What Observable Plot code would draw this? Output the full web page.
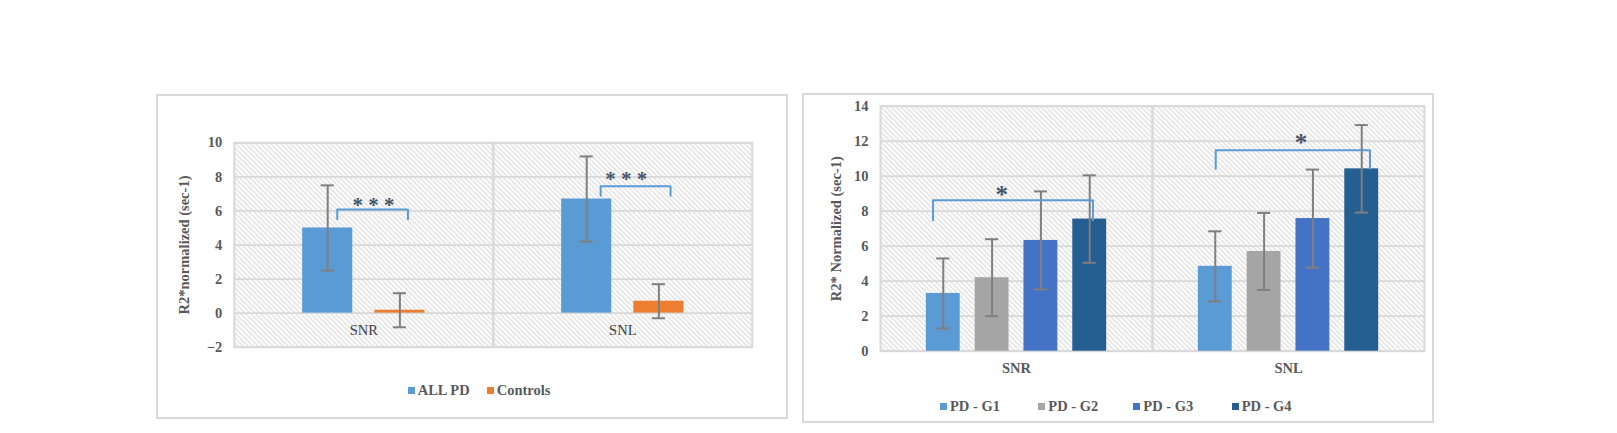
<!DOCTYPE html>
<html>
<head>
<meta charset="utf-8">
<script src="https://cdn.jsdelivr.net/npm/d3@7"></script>
<script src="https://cdn.jsdelivr.net/npm/@observablehq/plot@0.6"></script>
<style>
  body { margin: 0; background: #fff; }
  #root { position: relative; width: 1617px; height: 433px; overflow: hidden; background: #fff;
          font-family: "Liberation Serif", "DejaVu Serif", serif; }
  #root svg text { font-family: "Liberation Serif", "DejaVu Serif", serif; }
  .box { position: absolute; border: 2px solid #d9d9d9; box-sizing: border-box; pointer-events: none; }
  .chart { position: absolute; }
  .leg { position: absolute; display: flex; align-items: center; height: 18px; font-weight: bold;
         font-size: 14.5px; color: #595959; white-space: nowrap; font-family: "Liberation Serif", "DejaVu Serif", serif; }
  .leg i { display: inline-block; width: 7px; height: 7px; margin-right: 3px; }
</style>
</head>
<body>
<div id="root"></div>
<script>
// ---------------- data ----------------
const regions = ["SNR", "SNL"];

// Left chart: ALL PD vs Controls
const leftSeries = ["ALL PD", "Controls"];
const leftColors = ["#5b9bd5", "#ed7d31"];
const allPdMean = [5.0, 6.7];
const allPdErr = [2.5, 2.5];
const controlsMean = [0.17, 0.7];
const controlsErr = [1.0, 1.0];
const leftTicks = [-2, 0, 2, 4, 6, 8, 10];
const leftYLabel = "R2*normalized (sec-1)";

// Right chart: PD groups
const groups = ["PD - G1", "PD - G2", "PD - G3", "PD - G4"];
const groupColors = ["#5b9bd5", "#a5a5a5", "#4472c4", "#255e91"];
const g1Mean = [3.3, 4.85];
const g1Err = [2.0, 2.0];
const g2Mean = [4.2, 5.7];
const g2Err = [2.2, 2.2];
const g3Mean = [6.33, 7.58];
const g3Err = [2.8, 2.8];
const g4Mean = [7.55, 10.42];
const g4Err = [2.5, 2.5];
const rightTicks = [0, 2, 4, 6, 8, 10, 12, 14];
const rightYLabel = "R2* Normalized (sec-1)";

// significance brackets
const leftSig = [
  {region: "SNR", from: "ALL PD", to: "Controls", top: 6.09, low: 5.44, label: "* * *", anchor: "Controls"},
  {region: "SNL", from: "ALL PD", to: "Controls", top: 7.45, low: 6.81, label: "* * *", anchor: "Controls"}
];
const rightSig = [
  {region: "SNR", from: "PD - G1", to: "PD - G4", top: 8.63, low: 7.41, label: "*", anchor: "PD - G2"},
  {region: "SNL", from: "PD - G1", to: "PD - G4", top: 11.49, low: 10.35, label: "*", anchor: "PD - G3"}
];

// ---------------- tables ----------------
const leftRows = regions.flatMap((region, i) => [
  {region, series: leftSeries[0], value: allPdMean[i], err: allPdErr[i]},
  {region, series: leftSeries[1], value: controlsMean[i], err: controlsErr[i]}
]);
const groupMeans = [g1Mean, g2Mean, g3Mean, g4Mean];
const groupErrs = [g1Err, g2Err, g3Err, g4Err];
const rightRows = regions.flatMap((region, i) =>
  groups.map((series, j) => ({region, series, value: groupMeans[j][i], err: groupErrs[j][i]})));

// ---------------- drawing ----------------
const root = document.getElementById("root");
const BLUE = "#5b9bd5", GRID = "#d9d9d9", ERR = "#7f7f7f", STAR = "#44546a", TXT = "#595959";
const SERIF = "'Liberation Serif', 'DejaVu Serif', serif";

function panel(cfg) {
  const {id, rows, series, colors, yDomain, ticks, yLabel, sig, sigLayout, left, top, width, height, m,
         pi, po, capInset, labelOffset, catWeight, catColor, starSize} = cfg;
  const facetW = (width - m.left - m.right) / regions.length;
  const step = facetW / (series.length - pi + 2 * po);
  const bw = step * (1 - pi);

  const marks = [
    Plot.frame({fill: `url(#${id})`}),
    Plot.gridY(ticks, {stroke: GRID, strokeOpacity: 1, strokeWidth: 1.75}),
    Plot.frame({stroke: GRID, strokeWidth: 2}),
    Plot.barY(rows, {fx: "region", x: "series", y: "value", fill: "series"}),
    Plot.ruleX(rows, {fx: "region", x: "series", y1: d => d.value - d.err, y2: d => d.value + d.err,
                      stroke: ERR, strokeWidth: 2}),
    Plot.tickY(rows, {fx: "region", x: "series", y: d => d.value + d.err, stroke: ERR, strokeWidth: 2,
                      insetLeft: capInset, insetRight: capInset}),
    Plot.tickY(rows, {fx: "region", x: "series", y: d => d.value - d.err, stroke: ERR, strokeWidth: 2,
                      insetLeft: capInset, insetRight: capInset})
  ];
  sig.forEach((b, k) => {
    const L = sigLayout[k];
    marks.push(
      Plot.ruleY([b], {fx: "region", x1: "from", x2: "to", y: "top", insetLeft: L.l, insetRight: L.r,
                       stroke: BLUE, strokeWidth: 2}),
      Plot.ruleX([b], {fx: "region", x: "from", y1: "low", y2: "top", dx: L.l - bw / 2,
                       stroke: BLUE, strokeWidth: 2}),
      Plot.ruleX([b], {fx: "region", x: "to", y1: "low", y2: "top", dx: bw / 2 - L.r,
                       stroke: BLUE, strokeWidth: 2}),
      Plot.text([b], {fx: "region", x: "anchor", y: "top", text: "label", dx: L.dx, dy: L.dy,
                      lineAnchor: "bottom", fontSize: starSize, fontWeight: "bold", fill: STAR,
                      fontFamily: SERIF})
    );
  });
  marks.push(
    Plot.text(regions, {fx: d => d, y: () => 0, text: d => d, dy: 17.3, lineAnchor: "middle",
                        fontSize: 14.5, fontWeight: catWeight, fill: catColor, fontFamily: SERIF}),
    Plot.axisY(ticks, {tickSize: 0, tickPadding: 12, fontSize: 14.5, fontWeight: "bold", fill: TXT,
                       fontFamily: SERIF,
                       label: yLabel, labelAnchor: "center", labelOffset, labelArrow: "none"})
  );

  const svg = Plot.plot({
    width, height,
    marginTop: m.top, marginRight: m.right, marginBottom: m.bottom, marginLeft: m.left,
    style: {background: "transparent", fontFamily: SERIF, fontSize: "14px"},
    fx: {domain: regions, padding: 0, paddingInner: 0, paddingOuter: 0, round: false, axis: null, label: null},
    x: {domain: series, paddingInner: pi, paddingOuter: po, round: false, axis: null, label: null},
    y: {domain: yDomain, label: null},
    color: {domain: series, range: colors},
    marks
  });
  // hatch pattern
  const defs = d3.select(svg).insert("defs", ":first-child");
  const p = defs.append("pattern").attr("id", id).attr("patternUnits", "userSpaceOnUse")
    .attr("width", 5).attr("height", 5);
  p.append("rect").attr("width", 5).attr("height", 5).attr("fill", "#ffffff");
  p.append("path").attr("d", "M-5,0L0,5M0,0L5,5M5,0L10,5")
    .attr("stroke", "#d2d2d2").attr("stroke-width", 1.1).attr("fill", "none");
  // axis tick labels and title: bold serif grey
  d3.select(svg).selectAll('g[aria-label="y-axis tick label"], g[aria-label="y-axis label"]')
    .attr("font-weight", "bold").attr("fill", TXT).attr("font-family", SERIF);
  d3.select(svg).selectAll('g[aria-label="y-axis tick label"] text, g[aria-label="y-axis label"] text')
    .style("font-weight", "bold").style("font-size", "14.5px");

  svg.classList.add("chart");
  svg.style.left = left + "px";
  svg.style.top = top + "px";
  root.appendChild(svg);
}

function box(left, top, w, h) {
  const d = document.createElement("div");
  d.className = "box";
  Object.assign(d.style, {left: left + "px", top: top + "px", width: w + "px", height: h + "px"});
  root.appendChild(d);
}

function legend(labels, colors, xs, yCenter) {
  labels.forEach((label, i) => {
    const d = document.createElement("div");
    d.className = "leg";
    d.style.left = xs[i] + "px";
    d.style.top = (yCenter - 9) + "px";
    const mk = document.createElement("i");
    mk.style.background = colors[i];
    d.appendChild(mk);
    d.appendChild(document.createTextNode(label));
    root.appendChild(d);
  });
}

panel({
  id: "hatchL", rows: leftRows, series: leftSeries, colors: leftColors, yDomain: [-2, 10], ticks: leftTicks,
  yLabel: leftYLabel, sig: leftSig,
  sigLayout: [{l: 34.6, r: 17, dx: -26.5, dy: 2.6}, {l: 39, r: 13.4, dx: -32.7, dy: 0}],
  left: 157, top: 95, width: 630, height: 270,
  m: {top: 47.3, right: 35.2, bottom: 18.3, left: 76.8},
  pi: 0.3056, po: 0.947, capInset: 18.5, labelOffset: 55.8,
  catWeight: "normal", catColor: "#404040", starSize: 21
});
panel({
  id: "hatchR", rows: rightRows, series: groups, colors: groupColors, yDomain: [0, 14], ticks: rightTicks,
  yLabel: rightYLabel, sig: rightSig,
  sigLayout: [{l: 6.7, r: 13.7, dx: 9.7, dy: 3}, {l: 17.4, r: 8.7, dx: -11.9, dy: 0.4}],
  left: 803, top: 94, width: 630, height: 290,
  m: {top: 11.7, right: 9, bottom: 33.3, left: 77},
  pi: 0.306, po: 0.939, capInset: 10.35, labelOffset: 50,
  catWeight: "bold", catColor: TXT, starSize: 25
});

box(156, 94, 632, 324.5);
box(802.3, 93, 631.7, 329.7);
legend(leftSeries, leftColors, [407.7, 486.7], 390.7);
legend(groups, groupColors, [940, 1038.3, 1133.3, 1231.7], 406);
</script>
</body>
</html>
